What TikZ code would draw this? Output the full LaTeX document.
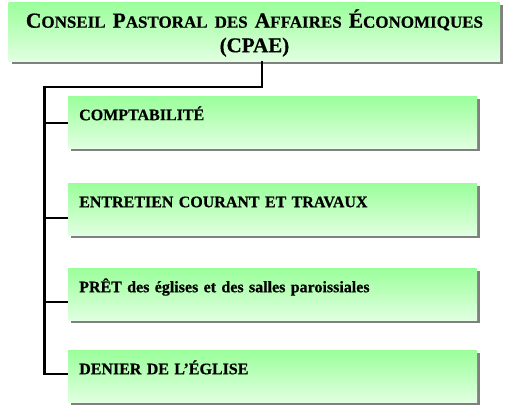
\documentclass[tikz,border=0pt]{standalone}
\usepackage{fontspec}
\setmainfont[BoldFeatures={FakeBold=0.6}]{Liberation Serif}
\usetikzlibrary{shadows}
\definecolor{boxgreen}{RGB}{153,255,153}
\definecolor{shadowgray}{RGB}{128,128,128}
\pgfdeclareverticalshading{greenfade}{100bp}{color(0bp)=(white); color(4bp)=(white); color(76bp)=(boxgreen); color(100bp)=(boxgreen)}
\newcommand\capsc[2]{{\fontsize{21.5}{24.5}\selectfont #1}{\fontsize{17}{24.5}\selectfont #2}}
\tikzset{
  greenbox/.style={rectangle, shading=greenfade, draw=none, anchor=north west,
    drop shadow={shadow xshift=3pt, shadow yshift=-3pt, fill=shadowgray, opacity=1}},
  titlebox/.style={greenbox, minimum width=491.5pt, minimum height=59pt, inner sep=0pt,
    align=center, text width=491.5pt, font=\bfseries\fontsize{21}{24.5}\selectfont,
    text height=25.5pt, text depth=33.5pt},
  itembox/.style={greenbox, minimum width=409pt, minimum height=52pt, inner xsep=11pt, inner ysep=0pt,
    text width=387pt, align=left, font=\bfseries\fontsize{16}{19}\selectfont,
    text height=24pt, text depth=28pt},
  conn/.style={line width=2.2pt, black, line join=miter},
}
\begin{document}
\begin{tikzpicture}[x=1pt,y=-1pt]
\useasboundingbox (0,0) rectangle (508,417);
\node[titlebox] (top) at (8.5,2) {\capsc{C}{ONSEIL} \capsc{P}{ASTORAL} {\fontsize{17}{24.5}\selectfont DES} \capsc{A}{FFAIRES} \capsc{É}{CONOMIQUES}\\(CPAE)};
\node[itembox] (b1) at (68,96) {COMPTABILITÉ};
\node[itembox] (b2) at (68,183) {ENTRETIEN COURANT ET TRAVAUX};
\node[itembox] (b3) at (68,268) {PRÊT des églises et des salles paroissiales};
\node[itembox] (b4) at (68,350) {DENIER DE L’ÉGLISE};
\coordinate (br0) at (44.5,87);
\coordinate (br1) at (44.5,123);
\coordinate (br2) at (44.5,218);
\coordinate (br3) at (44.5,302);
\coordinate (br4) at (44.5,374);
\draw[conn] ([xshift=7.5pt]top.south) |- (br0) -- (br4) -- (b4.west |- br4);
\draw[conn] (br1) -- (b1.west |- br1);
\draw[conn] (br2) -- (b2.west |- br2);
\draw[conn] (br3) -- (b3.west |- br3);
\end{tikzpicture}
\end{document}
